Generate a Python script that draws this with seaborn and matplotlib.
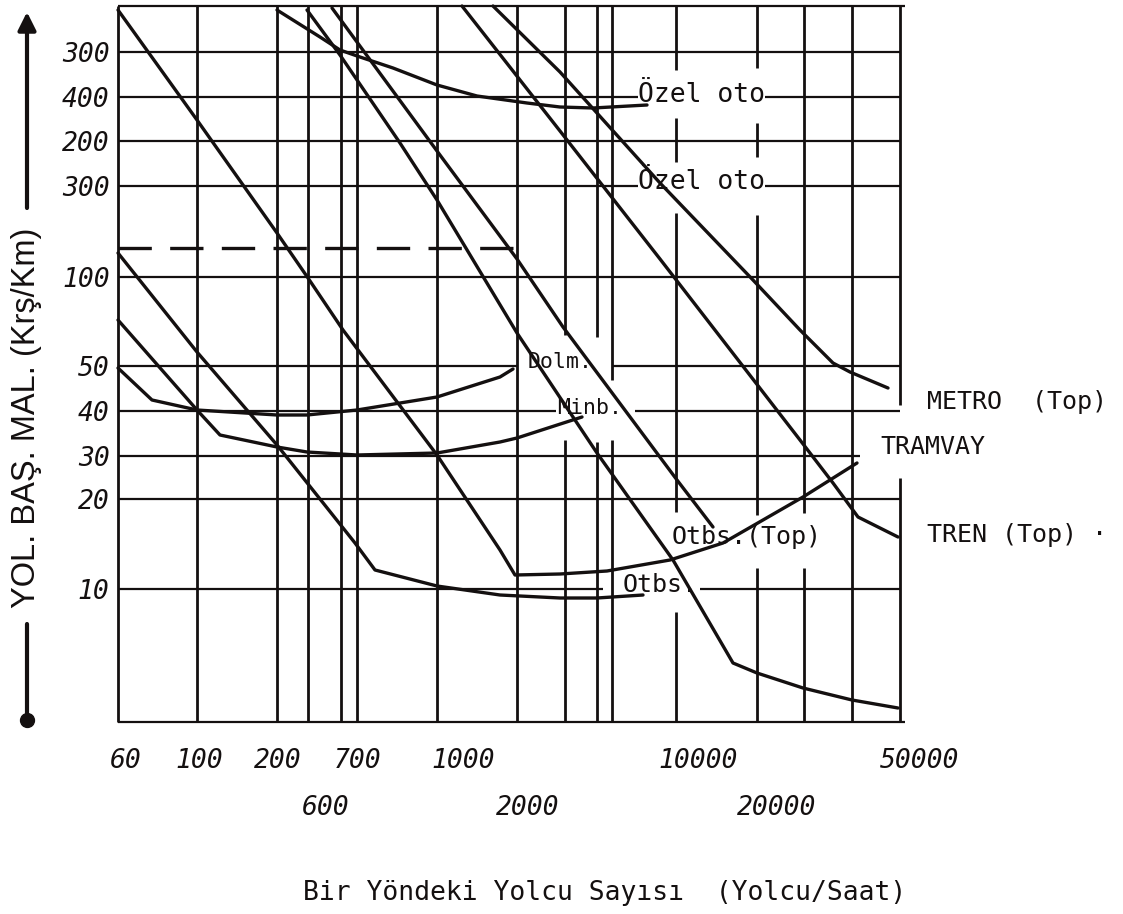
import matplotlib
matplotlib.use("Agg")
import matplotlib.pyplot as plt
import numpy as np
import pandas as pd
import seaborn as sns

# ---------------- data (chart units: x to the right, y downward) -------------
y_tick_pos = [52, 97, 141, 186, 277, 366, 411, 456, 499, 589]
y_tick_labels = ["300", "400", "200", "300", "100", "50", "40", "30", "20", "10"]
x_row1_pos = [126, 199, 278, 358, 463, 698, 920]
x_row1_labels = ["60", "100", "200", "700", "1000", "10000", "50000"]
x_row2_pos = [326, 528, 777]
x_row2_labels = ["600", "2000", "20000"]

# curves
tramvay_x = [118, 197, 277, 308, 343, 437, 500, 515, 560, 607, 670, 723, 803, 857]
tramvay_y = [10, 120, 233, 278, 330, 455, 550, 575, 574, 571, 560, 543, 497, 463]
otobus_x = [118, 197, 277, 355, 375, 437, 500, 560, 597, 643]
otobus_y = [253, 352, 445, 543, 570, 586, 595, 598, 598, 595]
minibus_x = [118, 197, 220, 277, 307, 357, 437, 500, 517, 582]
minibus_y = [320, 410, 435, 447, 452, 455, 453, 442, 438, 417]
dolmus_x = [118, 152, 197, 277, 307, 357, 437, 500, 513]
dolmus_y = [368, 400, 410, 415, 415, 410, 397, 377, 369]
ozel_x = [277, 320, 340, 360, 393, 437, 477, 527, 560, 593, 647]
ozel_y = [10, 37, 50, 57, 68, 85, 96, 103, 107, 108, 105]
alt_x = [307, 340, 400, 437, 517, 597, 673, 733, 757, 803, 852, 898]
alt_y = [10, 55, 143, 200, 333, 453, 560, 663, 673, 688, 700, 708]
otbs_top_x = [332, 437, 517, 563, 677, 713]
otbs_top_y = [8, 151, 259, 327, 480, 527]
tren_x = [462, 560, 660, 800, 833, 858, 898]
tren_y = [6, 131, 259, 440, 483, 517, 537]
metro_x = [493, 560, 660, 753, 800, 833, 850, 888]
metro_y = [6, 72, 183, 280, 330, 363, 372, 388]
dash_x = [118, 515]
dash_y = [248, 248]

# grid segments
v_grid_x = [118, 197, 277, 308, 341, 357, 437, 517, 565, 565, 597, 597, 612, 612,
            676, 676, 676, 676, 757, 757, 757, 757, 804, 804, 852, 900, 900]
v_grid_from = [6, 6, 6, 6, 6, 6, 6, 6, 6, 440, 6, 442, 6, 440,
               6, 118, 213, 612, 6, 123, 215, 568, 6, 568, 6, 6, 478]
v_grid_to = [722, 722, 722, 722, 722, 722, 722, 722, 335, 722, 337, 722, 380, 722,
             70, 162, 512, 722, 68, 157, 515, 722, 513, 722, 722, 405, 722]
h_grid_y = [6, 52, 97, 97, 141, 186, 186, 277, 366, 366, 411, 411, 456, 499, 589, 589, 722]
h_grid_from = [118, 118, 118, 765, 118, 118, 765, 118, 118, 612, 118, 635, 118, 118, 118, 700, 118]
h_grid_to = [905, 900, 638, 900, 900, 638, 900, 900, 518, 900, 556, 900, 860, 900, 603, 900, 905]

# labels
label_text = ["Özel oto", "Özel oto", "Dolm.", "Minb.", "Otbs.(Top)", "Otbs.",
              "METRO  (Top)", "TRAMVAY", "TREN (Top) ·"]
label_x = [701, 701, 560, 590, 747, 660, 927, 880, 927]
label_y = [95, 182, 362, 408, 537, 585, 402, 447, 535]
label_size = [19, 19, 15.5, 15.5, 18, 18, 18, 18, 18]
label_ha = ["center", "center", "center", "center", "center", "center", "left", "left", "left"]

# ---------------- build long-form table for seaborn ----------------
curves = {
    "tramvay": (tramvay_x, tramvay_y),
    "otobus": (otobus_x, otobus_y),
    "minibus": (minibus_x, minibus_y),
    "dolmus": (dolmus_x, dolmus_y),
    "ozel": (ozel_x, ozel_y),
    "alt": (alt_x, alt_y),
    "otbs_top": (otbs_top_x, otbs_top_y),
    "tren": (tren_x, tren_y),
    "metro": (metro_x, metro_y),
}
rows = []
for name, (xs, ys) in curves.items():
    for i, (xv, yv) in enumerate(zip(xs, ys)):
        rows.append({"curve": name, "order": i, "x": xv, "y": yv})
df = pd.DataFrame(rows)
df_dash = pd.DataFrame({"x": dash_x, "y": dash_y})

sns.set_theme(style="white")
plt.rcParams["font.family"] = ["DejaVu Sans Mono", "DejaVu Sans"]

W, H = 1123, 914
fig = plt.figure(figsize=(W / 100, H / 100), dpi=100)
fig.patch.set_facecolor("white")
ax = fig.add_axes([118 / W, (H - 722) / H, 782 / W, 716 / H])
ax.set_facecolor("white")
ax.set_xlim(118, 900)
ax.set_ylim(722, 6)
for s in ax.spines.values():
    s.set_visible(False)

ink = "#141010"

# grid
ax.vlines(v_grid_x, v_grid_from, v_grid_to, colors=ink, lw=2.0, clip_on=False, zorder=1)
ax.hlines(h_grid_y, h_grid_from, h_grid_to, colors=ink, lw=1.6, clip_on=False, zorder=1)

# curves
sns.lineplot(data=df, x="x", y="y", units="curve", estimator=None, sort=False,
             color=ink, lw=2.4, ax=ax, legend=False, zorder=3)
sns.lineplot(data=df_dash, x="x", y="y", estimator=None, sort=False, color=ink,
             lw=2.4, ax=ax, legend=False, linestyle=(0, (10, 5.5)), zorder=3)
for line in ax.lines:
    line.set_clip_on(False)

ax.set_xlabel("")
ax.set_ylabel("")
ax.set_xticks([])
ax.set_yticks(y_tick_pos)
ax.set_yticklabels(y_tick_labels, fontsize=19, style="oblique", color=ink)
ax.tick_params(axis="y", length=0, pad=6)

# x tick labels, two rows
for xv, t in zip(x_row1_pos, x_row1_labels):
    ax.text(xv, 761, t, ha="center", va="center", fontsize=19, style="oblique",
            color=ink, clip_on=False)
for xv, t in zip(x_row2_pos, x_row2_labels):
    ax.text(xv, 808, t, ha="center", va="center", fontsize=19, style="oblique",
            color=ink, clip_on=False)

# curve labels
for t, xv, yv, fs, ha in zip(label_text, label_x, label_y, label_size, label_ha):
    ax.text(xv, yv, t, ha=ha, va="center", fontsize=fs, color=ink, clip_on=False,
            zorder=4)

# axis titles
ax.text(605, 893, "Bir Yöndeki Yolcu Sayısı  (Yolcu/Saat)", ha="center", va="center",
        fontsize=19, color=ink, clip_on=False)
ax.text(27, 418, "YOL. BAŞ. MAL. (Krş/Km)", rotation=90, ha="center", va="center",
        fontsize=23.5, family=["Liberation Sans", "DejaVu Sans"], color=ink, clip_on=False)
ax.annotate("", xy=(27, 12), xytext=(27, 208),
            arrowprops=dict(arrowstyle="-|>,head_length=0.9,head_width=0.45", lw=3,
                            color=ink, shrinkA=0, shrinkB=0),
            annotation_clip=False)
ax.plot([27, 27], [624, 718], color=ink, lw=3, clip_on=False)
ax.plot([27], [720], marker="o", ms=10, color=ink, clip_on=False)

fig.savefig("out.png", dpi=100, facecolor="white")
